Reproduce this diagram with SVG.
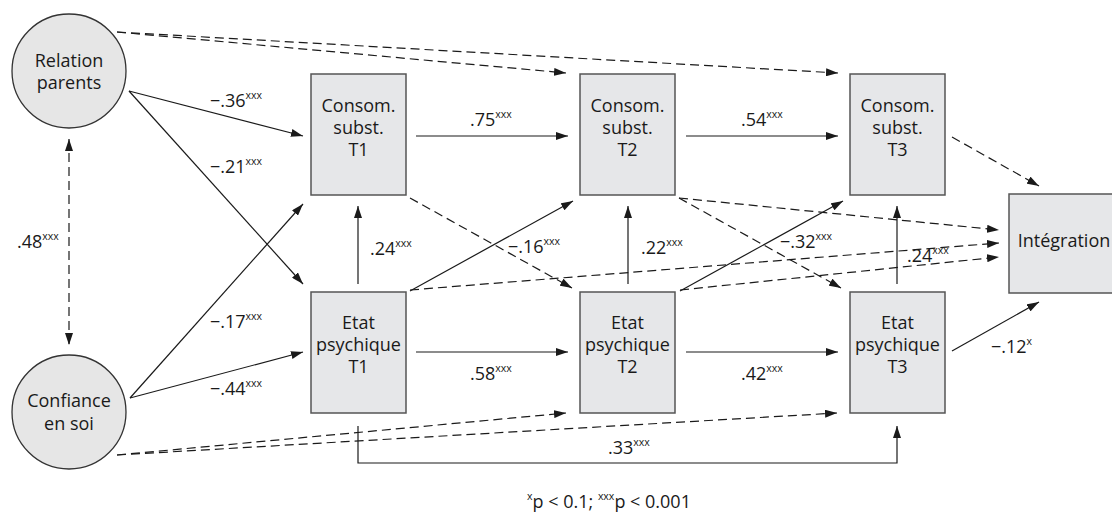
<svg xmlns="http://www.w3.org/2000/svg" width="1112" height="512" viewBox="0 0 1112 512">
<style>
text{font-family:"Open Sans","Liberation Sans",sans-serif;font-size:18px;fill:#1a1a1a}
.n{text-anchor:middle}
.s{font-size:10.5px}
.box{fill:#e6e7e9;stroke:#555;stroke-width:1.5}
.c{fill:#e6e6e6;stroke:#333;stroke-width:1.3}
.l{fill:none;stroke:#1a1a1a;stroke-width:1.2}
.d{fill:none;stroke:#1a1a1a;stroke-width:1.2;stroke-dasharray:9 5}
</style>
<defs>
<marker id="a" markerUnits="userSpaceOnUse" markerWidth="13" markerHeight="8" refX="12" refY="4" orient="auto-start-reverse">
<path d="M0,0 L12,4 L0,8 z" fill="#1a1a1a"/>
</marker>
</defs>
<rect width="1112" height="512" fill="#fff"/>
<g id="connectors">
<path class="l" d="M129,91 L303,136" marker-end="url(#a)"/>
<path class="l" d="M129,91 L303,284" marker-end="url(#a)"/>
<path class="l" d="M130,398 L303,204" marker-end="url(#a)"/>
<path class="l" d="M130,398 L303,352" marker-end="url(#a)"/>
<path class="l" d="M416,136 L568,136" marker-end="url(#a)"/>
<path class="l" d="M686,136 L838,136" marker-end="url(#a)"/>
<path class="l" d="M416,352 L568,352" marker-end="url(#a)"/>
<path class="l" d="M686,352 L838,352" marker-end="url(#a)"/>
<path class="l" d="M358,284 L358,206" marker-end="url(#a)"/>
<path class="l" d="M628,284 L628,206" marker-end="url(#a)"/>
<path class="l" d="M897,284 L897,206" marker-end="url(#a)"/>
<path class="l" d="M410,291 L573,201" marker-end="url(#a)"/>
<path class="l" d="M680,291 L843,201" marker-end="url(#a)"/>
<path class="l" d="M952,351 L1039,302" marker-end="url(#a)"/>
<path class="l" d="M358,426 L358,463 L897,463 L897,426" marker-end="url(#a)"/>
<path class="d" d="M69,139 L69,345" marker-start="url(#a)" marker-end="url(#a)"/>
<path class="d" d="M117,32 L566,73" marker-end="url(#a)"/>
<path class="d" d="M117,32 L838,73" marker-end="url(#a)"/>
<path class="d" d="M117,455 L566,413" marker-end="url(#a)"/>
<path class="d" d="M117,455 L837,413" marker-end="url(#a)"/>
<path class="d" d="M410,198 L572,288" marker-end="url(#a)"/>
<path class="d" d="M679,198 L841,288" marker-end="url(#a)"/>
<path class="d" d="M679,198 L999,230" marker-end="url(#a)"/>
<path class="d" d="M410,290 L999,243" marker-end="url(#a)"/>
<path class="d" d="M680,290 L999,257" marker-end="url(#a)"/>
<path class="d" d="M952,137 L1039,186" marker-end="url(#a)"/>
</g>
<g id="labels">
<text x="210" y="107">−.36<tspan class="s" dy="-8">xxx</tspan></text>
<text x="210" y="173">−.21<tspan class="s" dy="-8">xxx</tspan></text>
<text x="210" y="328">−.17<tspan class="s" dy="-8">xxx</tspan></text>
<text x="210" y="395">−.44<tspan class="s" dy="-8">xxx</tspan></text>
<text x="17" y="248">.48<tspan class="s" dy="-8">xxx</tspan></text>
<text x="470" y="126">.75<tspan class="s" dy="-8">xxx</tspan></text>
<text x="741" y="126">.54<tspan class="s" dy="-8">xxx</tspan></text>
<text x="470" y="380">.58<tspan class="s" dy="-8">xxx</tspan></text>
<text x="741" y="380">.42<tspan class="s" dy="-8">xxx</tspan></text>
<text x="370" y="255">.24<tspan class="s" dy="-8">xxx</tspan></text>
<text x="641" y="254">.22<tspan class="s" dy="-8">xxx</tspan></text>
<text x="508" y="253">−.16<tspan class="s" dy="-8">xxx</tspan></text>
<text x="780" y="248">−.32<tspan class="s" dy="-8">xxx</tspan></text>
<text x="907" y="262">.24<tspan class="s" dy="-8">xxx</tspan></text>
<text x="608" y="454">.33<tspan class="s" dy="-8">xxx</tspan></text>
<text x="991" y="353">−.12<tspan class="s" dy="-8">x</tspan></text>
<text x="527" y="508"><tspan class="s" dy="-8">x</tspan><tspan dy="8">p &lt; 0.1; </tspan><tspan class="s" dy="-8">xxx</tspan><tspan dy="8">p &lt; 0.001</tspan></text>
</g>
<g id="relation">
<circle class="c" cx="69" cy="71" r="57"/>
<text class="n" x="69" y="67">Relation</text>
<text class="n" x="69" y="89">parents</text>
</g>
<g id="confiance">
<circle class="c" cx="69" cy="412" r="57"/>
<text class="n" x="69" y="407">Confiance</text>
<text class="n" x="69" y="430">en soi</text>
</g>
<g id="consom1">
<rect class="box" x="311" y="74" width="95" height="121"/>
<text class="n" x="358.5" y="112">Consom.</text>
<text class="n" x="358.5" y="134">subst.</text>
<text class="n" x="358.5" y="156">T1</text>
</g>
<g id="consom2">
<rect class="box" x="580" y="74" width="95" height="121"/>
<text class="n" x="627.5" y="112">Consom.</text>
<text class="n" x="627.5" y="134">subst.</text>
<text class="n" x="627.5" y="156">T2</text>
</g>
<g id="consom3">
<rect class="box" x="850" y="74" width="95" height="121"/>
<text class="n" x="897.5" y="112">Consom.</text>
<text class="n" x="897.5" y="134">subst.</text>
<text class="n" x="897.5" y="156">T3</text>
</g>
<g id="etat1">
<rect class="box" x="311" y="292" width="95" height="121"/>
<text class="n" x="358.5" y="329">Etat</text>
<text class="n" x="358.5" y="351">psychique</text>
<text class="n" x="358.5" y="373">T1</text>
</g>
<g id="etat2">
<rect class="box" x="580" y="292" width="95" height="121"/>
<text class="n" x="627.5" y="329">Etat</text>
<text class="n" x="627.5" y="351">psychique</text>
<text class="n" x="627.5" y="373">T2</text>
</g>
<g id="etat3">
<rect class="box" x="850" y="292" width="95" height="121"/>
<text class="n" x="897.5" y="329">Etat</text>
<text class="n" x="897.5" y="351">psychique</text>
<text class="n" x="897.5" y="373">T3</text>
</g>
<g id="integration">
<rect class="box" x="1009" y="194" width="120" height="99"/>
<text class="n" x="1064" y="247">Intégration</text>
</g>
</svg>
